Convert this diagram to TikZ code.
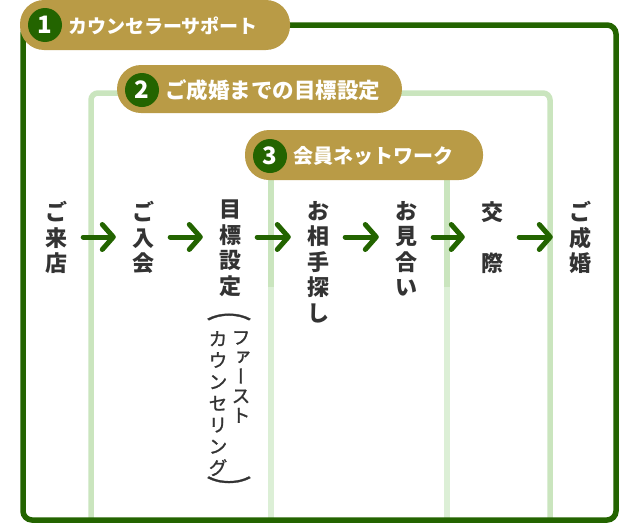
\documentclass[tikz,border=0pt]{standalone}
\usepackage{fontspec}
\setmainfont{Noto Sans CJK JP}
\newfontfamily\vjp[RawFeature={+vert}, FakeBold=1.2]{Noto Sans CJK JP}
\usepackage{graphicx}
\usetikzlibrary{arrows.meta,positioning,calc}

\definecolor{leafgreen}{HTML}{236400}
\definecolor{mustard}{HTML}{B99B46}
\definecolor{palegreen}{HTML}{CAE5BE}
\definecolor{palergreen}{HTML}{DCEFD6}
\definecolor{inkgray}{HTML}{333333}

\begin{document}
\begin{tikzpicture}[
    x=1pt, y=-1pt,
    badge/.style={rectangle, fill=mustard, rounded corners=24pt, minimum height=50pt, inner sep=0pt},
    num/.style={circle, fill=leafgreen, text=white, minimum size=34pt, inner sep=0pt, font=\fontsize{24}{24}\selectfont\bfseries},
    badgetext/.style={text=white, anchor=west, inner sep=0pt, font=\fontsize{#1}{#1}\selectfont\bfseries},
    stage/.style={anchor=north, inner sep=0pt, align=center, text=inkgray, font=\fontsize{22}{25.5}\selectfont\bfseries},
    sub/.style={anchor=north, inner sep=0pt, align=center, text=inkgray, font=\vjp\fontsize{19}{#1}\selectfont},
    paren/.style={inner sep=0pt, text=inkgray, font=\vjp\fontsize{18}{18}\selectfont},
    flow/.style={leafgreen, line width=5pt, line cap=round, shorten <=16pt, shorten >=16pt, -{Straight Barb[length=11pt,width=25pt,round]}},
    frameA/.style={leafgreen, line width=5.5pt, rounded corners=9pt},
    frameB/.style={palegreen, line width=5.5pt, rounded corners=7pt},
    netline/.style={line width=5.5pt}
]
\useasboundingbox (0,0) rectangle (640,525);

% Frames
\draw[frameB] (91,520) -- (91,93) -- (550,93) -- (550,520);
\draw[netline, palegreen] (271,175) -- (271,287);
\draw[netline, palergreen] (271,287) -- (271,520);
\draw[netline, palegreen] (447,175) -- (447,287);
\draw[netline, palergreen] (447,287) -- (447,520);
\draw[frameA] (23,25) rectangle (616,520);

% Badges
\node[badge, minimum width=270pt] (support) at (155,25) {};
\node[num] (support-num) at (45,25) {1};
\node[badgetext=19] (support-text) at (68,26) {カウンセラーサポート};

\node[badge, minimum width=285pt, minimum height=48pt] (goal) at (259.5,89) {};
\node[num] (goal-num) at (142,90) {2};
\node[badgetext=21.5] (goal-text) at (165,90) {ご成婚までの目標設定};

\node[badge, minimum width=238pt] (net) at (364,155) {};
\node[num] (net-num) at (270,156) {3};
\node[badgetext=20] (net-text) at (293,156) {会員ネットワーク};

% Stages
\node[stage] (raiten) at (56,201) {ご\\来\\店};
\node[stage] (nyukai) at (143,201) {ご\\入\\会};
\node[stage] (mokuhyo) at (230,200) {目\\標\\設\\定};
\node[stage] (aite) at (318,201) {お\\相\\手\\探\\し};
\node[stage] (omiai) at (406,201) {お\\見\\合\\い};
\node[stage] (kosai) at (492,201) {交\\[25.5pt]際};
\node[stage] (seikon) at (580,201) {ご\\成\\婚};

% First counseling note
\node[paren] (popen) at (229,317) {\scalebox{2.5}[1.4]{︵}};
\node[sub=19.5] (first) at (241,331) {フ\\ァ\\ー\\ス\\ト};
\node[sub=21.5] (counsel) at (218,331) {カ\\ウ\\ン\\セ\\リ\\ン\\グ};
\node[paren] (pclose) at (229,487) {\scalebox{2.5}[1.4]{︶}};

% Arrows
\coordinate (row) at (0,237);
\draw[flow] (raiten.east |- row) -- (nyukai.west |- row);
\draw[flow] (nyukai.east |- row) -- (mokuhyo.west |- row);
\draw[flow] (mokuhyo.east |- row) -- (aite.west |- row);
\draw[flow] (aite.east |- row) -- (omiai.west |- row);
\draw[flow] (omiai.east |- row) -- (kosai.west |- row);
\draw[flow] (kosai.east |- row) -- (seikon.west |- row);

\end{tikzpicture}
\end{document}
